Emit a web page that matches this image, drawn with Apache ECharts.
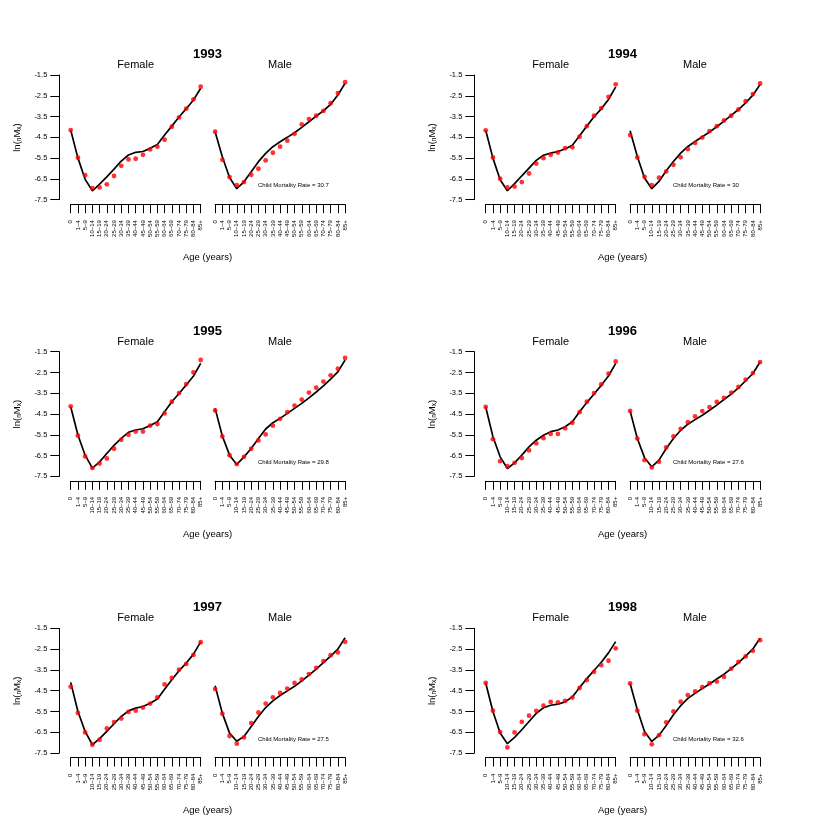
<!DOCTYPE html>
<html><head><meta charset="utf-8">
<script src="https://cdn.jsdelivr.net/npm/echarts@6/dist/echarts.min.js"></script>
<style>html,body{margin:0;padding:0;background:#fff}#c{width:830px;height:830px}</style>
</head><body><div id="c"></div>
<script>
const ageGroups = ['0','1\u20134','5\u20139','10\u201314','15\u201319','20\u201324','25\u201329','30\u201334','35\u201339','40\u201344','45\u201349','50\u201354','55\u201359','60\u201364','65\u201369','70\u201374','75\u201379','80\u201384','85+'];
const yTicks = [-7.5,-6.5,-5.5,-4.5,-3.5,-2.5,-1.5];
const years = ['1993','1994','1995','1996','1997','1998'];
const childMortality = [30.7, 30, 29.8, 27.6, 27.5, 32.6];

const f1993Pts = [-4.15,-5.48,-6.32,-6.94,-6.91,-6.76,-6.36,-5.87,-5.56,-5.53,-5.34,-5.08,-4.95,-4.61,-3.99,-3.54,-3.12,-2.67,-2.06];
const f1993Fit = [-4.15,-5.50,-6.52,-7.07,-6.75,-6.40,-6.03,-5.64,-5.35,-5.22,-5.18,-5.03,-4.84,-4.39,-3.96,-3.52,-3.12,-2.70,-2.14];
const m1993Pts = [-4.23,-5.58,-6.41,-6.80,-6.65,-6.30,-6.01,-5.61,-5.24,-4.95,-4.66,-4.33,-3.88,-3.62,-3.46,-3.23,-2.86,-2.37,-1.85];
const m1993Fit = [-4.23,-5.43,-6.43,-6.97,-6.64,-6.16,-5.67,-5.27,-4.95,-4.71,-4.50,-4.28,-4.02,-3.75,-3.48,-3.22,-2.91,-2.46,-1.90];

const f1994Pts = [-4.16,-5.47,-6.49,-6.91,-6.87,-6.65,-6.24,-5.76,-5.50,-5.34,-5.23,-5.02,-4.98,-4.47,-3.96,-3.46,-3.09,-2.55,-1.95];
const f1994Fit = [-4.16,-5.50,-6.54,-7.07,-6.73,-6.35,-5.98,-5.61,-5.36,-5.26,-5.18,-5.06,-4.88,-4.42,-3.96,-3.51,-3.13,-2.68,-2.07];
const m1994Pts = [-4.39,-5.47,-6.40,-6.80,-6.44,-6.14,-5.82,-5.46,-5.07,-4.77,-4.51,-4.20,-3.96,-3.69,-3.46,-3.16,-2.76,-2.42,-1.91];
const m1994Fit = [-4.18,-5.42,-6.46,-6.97,-6.62,-6.11,-5.66,-5.26,-4.94,-4.70,-4.47,-4.24,-3.99,-3.72,-3.44,-3.16,-2.84,-2.47,-1.96];

const f1995Pts = [-4.13,-5.54,-6.54,-7.10,-6.88,-6.64,-6.17,-5.74,-5.50,-5.34,-5.34,-5.06,-4.98,-4.47,-3.91,-3.49,-3.06,-2.50,-1.90];
const f1995Fit = [-4.15,-5.51,-6.48,-7.10,-6.80,-6.40,-6.01,-5.67,-5.38,-5.27,-5.21,-5.05,-4.87,-4.39,-3.91,-3.51,-3.10,-2.67,-2.06];
const m1995Pts = [-4.33,-5.58,-6.48,-6.91,-6.56,-6.17,-5.77,-5.48,-5.06,-4.73,-4.41,-4.10,-3.81,-3.47,-3.23,-2.94,-2.64,-2.32,-1.80];
const m1995Fit = [-4.23,-5.56,-6.48,-6.93,-6.56,-6.16,-5.68,-5.22,-4.92,-4.71,-4.47,-4.23,-3.99,-3.72,-3.44,-3.15,-2.82,-2.47,-1.90];

const f1996Pts = [-4.16,-5.71,-6.77,-7.01,-6.85,-6.62,-6.25,-5.91,-5.66,-5.46,-5.46,-5.19,-4.92,-4.41,-3.91,-3.49,-3.07,-2.56,-1.97];
const f1996Fit = [-4.16,-5.59,-6.56,-7.12,-6.85,-6.48,-6.08,-5.76,-5.52,-5.35,-5.27,-5.11,-4.87,-4.39,-3.95,-3.54,-3.12,-2.67,-2.06];
const m1996Pts = [-4.35,-5.68,-6.72,-7.07,-6.80,-6.11,-5.58,-5.21,-4.89,-4.62,-4.36,-4.17,-3.92,-3.72,-3.47,-3.20,-2.85,-2.53,-2.00];
const m1996Fit = [-4.35,-5.68,-6.60,-7.04,-6.72,-6.16,-5.68,-5.28,-4.99,-4.77,-4.56,-4.32,-4.07,-3.80,-3.54,-3.24,-2.90,-2.55,-2.00];

const f1997Pts = [-4.31,-5.57,-6.51,-7.10,-6.86,-6.32,-6.01,-5.84,-5.52,-5.46,-5.31,-5.12,-4.82,-4.20,-3.89,-3.49,-3.21,-2.78,-2.17];
const f1997Fit = [-4.10,-5.50,-6.46,-7.10,-6.81,-6.46,-6.09,-5.74,-5.47,-5.34,-5.26,-5.10,-4.90,-4.43,-3.97,-3.54,-3.17,-2.74,-2.15];
const m1997Pts = [-4.42,-5.61,-6.68,-7.05,-6.75,-6.06,-5.55,-5.12,-4.82,-4.61,-4.40,-4.13,-3.96,-3.70,-3.40,-3.08,-2.79,-2.66,-2.15];
const m1997Fit = [-4.26,-5.58,-6.54,-6.93,-6.70,-6.22,-5.74,-5.31,-4.99,-4.73,-4.51,-4.29,-4.03,-3.75,-3.46,-3.15,-2.84,-2.50,-1.95];

const f1998Pts = [-4.13,-5.46,-6.49,-7.23,-6.51,-6.00,-5.70,-5.47,-5.22,-5.04,-5.06,-4.99,-4.83,-4.37,-3.99,-3.59,-3.27,-3.06,-2.46];
const f1998Fit = [-4.13,-5.50,-6.54,-7.05,-6.75,-6.38,-5.98,-5.59,-5.32,-5.20,-5.15,-5.04,-4.80,-4.35,-3.92,-3.53,-3.13,-2.68,-2.14];
const m1998Pts = [-4.15,-5.46,-6.59,-7.08,-6.64,-6.02,-5.50,-5.03,-4.72,-4.54,-4.33,-4.14,-4.06,-3.84,-3.44,-3.12,-2.85,-2.58,-2.07];
const m1998Fit = [-4.15,-5.42,-6.46,-6.94,-6.65,-6.17,-5.66,-5.22,-4.87,-4.63,-4.39,-4.18,-3.94,-3.71,-3.44,-3.15,-2.84,-2.49,-1.98];

const femalePts = [f1993Pts,f1994Pts,f1995Pts,f1996Pts,f1997Pts,f1998Pts];
const femaleFit = [f1993Fit,f1994Fit,f1995Fit,f1996Fit,f1997Fit,f1998Fit];
const malePts = [m1993Pts,m1994Pts,m1995Pts,m1996Pts,m1997Pts,m1998Pts];
const maleFit = [m1993Fit,m1994Fit,m1995Fit,m1996Fit,m1997Fit,m1998Fit];

const FONT = '"Liberation Sans", Arial, Helvetica, sans-serif';
const chart = echarts.init(document.getElementById('c'), null, {renderer:'canvas'});
const grid = [], xAxis = [], yAxis = [], series = [], graphic = [];
const colW = 415, rowH = 276.67;
const gTop = 75, gH = 124.7, fLeft = 70.7, mLeft = 215.1, gW = 130;

function txt(text, x, y, size, opts) {
  opts = opts || {};
  graphic.push({
    type:'text', x:x, y:y, rotation: opts.rotation || 0, silent:true,
    style: Object.assign({text:text, fill:'#000', font:(opts.bold?'bold ':'') + size + 'px ' + FONT,
      fontSize:size, fontFamily:FONT, fontWeight: opts.bold?'bold':'normal',
      align: opts.align || 'center', verticalAlign:'middle', textAlign: opts.align || 'center', textVerticalAlign:'middle'}, opts.style || {})
  });
}

years.forEach(function(yr, p) {
  const r = Math.floor(p/2), c = p%2;
  const ox = c*colW, oy = r*rowH;
  [0,1].forEach(function(s) {
    const gi = grid.length;
    grid.push({left:(s===0?fLeft:mLeft)+ox, top:gTop+oy, width:gW, height:gH, containLabel:false});
    xAxis.push({type:'category', gridIndex:gi, data:ageGroups, boundaryGap:false, offset:4.5,
      axisLine:{show:true, onZero:false, lineStyle:{color:'#000', width:1}},
      axisTick:{show:true, length:9, interval:0, lineStyle:{color:'#000', width:1}},
      axisLabel:{interval:0, rotate:90, fontSize:6, color:'#000', fontFamily:FONT, margin:16},
      splitLine:{show:false}});
    yAxis.push({type:'value', gridIndex:gi, min:-7.5, max:-1.5, interval:1, offset:11.4,
      show: s===0,
      axisLine:{show:true, lineStyle:{color:'#000', width:1}},
      axisTick:{show:true, length:9, lineStyle:{color:'#000', width:1}},
      axisLabel:{fontSize:7.5, color:'#000', fontFamily:FONT, margin:12, formatter:function(v){return v.toFixed(1);}},
      splitLine:{show:false}});
    const pts = s===0 ? femalePts[p] : malePts[p];
    const fit = s===0 ? femaleFit[p] : maleFit[p];
    series.push({type:'line', xAxisIndex:gi, yAxisIndex:gi, data:fit, showSymbol:false, symbol:'none',
      lineStyle:{color:'#000', width:1.7}, silent:true, animation:false, z:2});
    series.push({type:'scatter', xAxisIndex:gi, yAxisIndex:gi, data:pts, symbol:'circle', symbolSize:4.8,
      itemStyle:{color:'#ff0000'}, silent:true, animation:false, z:3});
  });
  txt(yr, 207.5+ox, 54.5+oy, 13, {bold:true});
  txt('Female', 135.7+ox, 65+oy, 11);
  txt('Male', 280+ox, 65+oy, 11);
  txt('Age (years)', 207.5+ox, 257.5+oy, 9.5);
  txt('Child Mortality Rate = ' + childMortality[p], 258+ox, 185.7+oy, 6, {align:'left'});
  graphic.push({type:'text', x:17+ox, y:137.5+oy, rotation:Math.PI/2, silent:true,
    style:{text:'ln({s|n}M{s|x})', fill:'#000', font:'9.5px '+FONT, fontSize:9.5, fontFamily:FONT,
      align:'center', verticalAlign:'middle', textAlign:'center', textVerticalAlign:'middle',
      rich:{s:{fontSize:6.5, fontFamily:FONT, fill:'#000', verticalAlign:'bottom', padding:[4,0,0,0]}}}});
});

chart.setOption({animation:false, backgroundColor:'#fff', grid:grid, xAxis:xAxis, yAxis:yAxis, series:series, graphic:graphic});
</script></body></html>
